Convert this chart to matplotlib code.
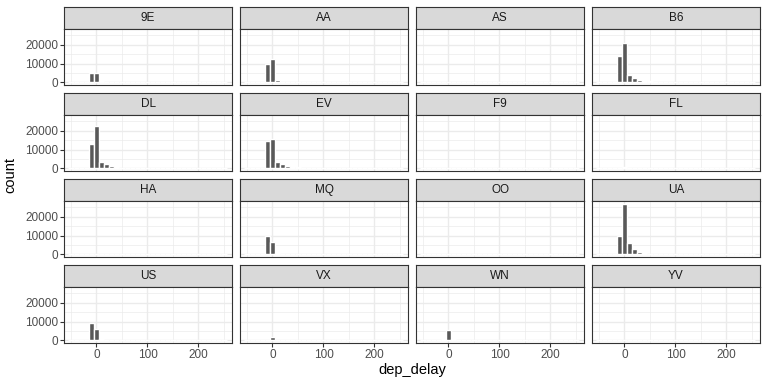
import matplotlib.pyplot as plt
import numpy as np

plt.rcParams['font.family'] = ['Liberation Sans', 'DejaVu Sans']

W, H = 768, 384

# histogram bins of dep_delay (centres, width 10)
bin_centers = np.arange(-50, 251, 10)

carriers = ["9E", "AA", "AS", "B6", "DL", "EV", "F9", "FL",
            "HA", "MQ", "OO", "UA", "US", "VX", "WN", "YV"]

# counts for bins -40, -30, ..., 90 (other bins are empty)
c_9E = [0, 0, 30, 5000, 4800, 800, 250, 120, 60, 30, 20, 10, 5, 0]
c_AA = [0, 0, 60, 9900, 12600, 1300, 450, 200, 100, 50, 30, 20, 10, 5]
c_AS = [0, 0, 10, 250, 300, 80, 30, 15, 5, 0, 0, 0, 0, 0]
c_B6 = [0, 0, 80, 13800, 20800, 4100, 2300, 1500, 900, 600, 400, 250, 120, 60]
c_DL = [0, 0, 90, 12900, 22300, 3600, 2100, 1200, 700, 400, 200, 100, 50, 20]
c_EV = [0, 0, 70, 14500, 15500, 3400, 2200, 1400, 1000, 700, 500, 400, 250, 120]
c_F9 = [0, 0, 5, 200, 250, 100, 50, 30, 15, 5, 0, 0, 0, 0]
c_FL = [0, 0, 10, 500, 900, 400, 200, 100, 50, 20, 10, 0, 0, 0]
c_HA = [0, 0, 5, 150, 120, 30, 15, 5, 0, 0, 0, 0, 0, 0]
c_MQ = [0, 0, 40, 9600, 6700, 700, 400, 200, 100, 50, 20, 10, 0, 0]
c_OO = [0, 0, 0, 10, 10, 5, 0, 0, 0, 0, 0, 0, 0, 0]
c_UA = [0, 0, 100, 10000, 27000, 6300, 2700, 1400, 700, 500, 250, 120, 60, 20]
c_US = [0, 0, 40, 9200, 5900, 700, 300, 150, 80, 40, 20, 10, 0, 0]
c_VX = [0, 0, 20, 300, 2000, 200, 100, 50, 20, 10, 0, 0, 0, 0]
c_WN = [0, 0, 30, 700, 5500, 1000, 300, 150, 80, 40, 20, 10, 0, 0]
c_YV = [0, 0, 5, 150, 180, 60, 30, 15, 5, 0, 0, 0, 0, 0]

counts = [c_9E, c_AA, c_AS, c_B6, c_DL, c_EV, c_F9, c_FL,
          c_HA, c_MQ, c_OO, c_UA, c_US, c_VX, c_WN, c_YV]

ymax = max(max(c) for c in counts)
ylim = (-0.05 * ymax, 1.05 * ymax)
xlim = (-63.7, 265.7)

fig = plt.figure(figsize=(W / 100, H / 100), dpi=100)


def box(x, y, w, h):
    # pixel box (top-left origin) -> figure fraction
    return [x / W, 1 - (y + h) / H, w / W, h / H]


for i, (name, vals) in enumerate(zip(carriers, counts)):
    r, c = divmod(i, 4)
    left = 64 + 176 * c
    top = 7 + 86 * r

    # strip
    sax = fig.add_axes(box(left, top, 168, 22))
    sax.set_facecolor("#D9D9D9")
    sax.set_xticks([])
    sax.set_yticks([])
    for sp in sax.spines.values():
        sp.set_color("#333333")
        sp.set_linewidth(0.8)
    sax.text(0.5, 0.5, name, ha="center", va="center", fontsize=8.45,
             color="#1A1A1A", transform=sax.transAxes)

    # panel
    ax = fig.add_axes(box(left, top + 22, 168, 56))
    full = np.zeros(len(bin_centers))
    full[1:1 + len(vals)] = vals
    ax.bar(bin_centers, full, width=10, color="#595959", edgecolor="white",
           linewidth=1.0, zorder=3)
    ax.set_xlim(xlim)
    ax.set_ylim(ylim)

    ax.set_xticks([0, 100, 200])
    ax.set_xticks([-50, 50, 150, 250], minor=True)
    ax.set_yticks([0, 10000, 20000])
    ax.set_yticks([5000, 15000, 25000], minor=True)
    ax.grid(which="major", color="#EBEBEB", linewidth=1.0, zorder=0)
    ax.grid(which="minor", color="#EBEBEB", linewidth=0.5, zorder=0)
    ax.set_axisbelow(True)
    for sp in ax.spines.values():
        sp.set_color("#333333")
        sp.set_linewidth(0.8)
        sp.set_zorder(5)

    ax.tick_params(which="minor", length=0)
    ax.tick_params(which="major", length=2.7, width=0.8, color="#333333",
                   labelsize=8.45, labelcolor="#4D4D4D", pad=1.5)
    if c != 0:
        ax.tick_params(axis="y", which="major", length=0, labelleft=False)
    if r != 3:
        ax.tick_params(axis="x", which="major", length=0, labelbottom=False)

fig.text(412 / W, 1 - 370 / H, "dep_delay", ha="center", va="center",
         fontsize=10.5, color="black")
fig.text(10 / W, 1 - 175 / H, "count", ha="center", va="center",
         rotation=90, fontsize=10.5, color="black")

fig.savefig("out.png", dpi=100)
